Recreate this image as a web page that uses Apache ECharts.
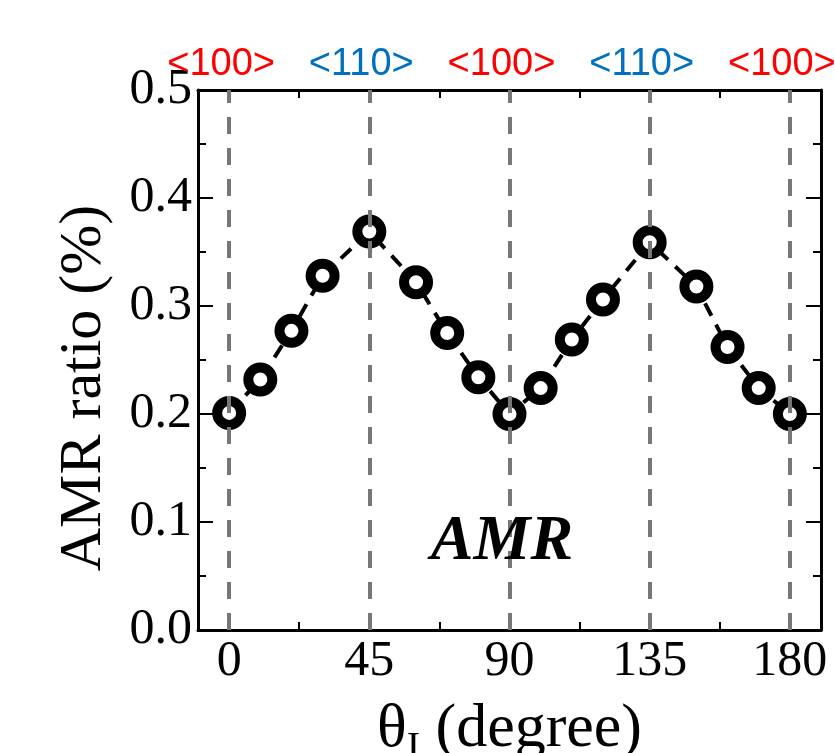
<!DOCTYPE html>
<html>
<head>
<meta charset="utf-8">
<script src="https://cdn.jsdelivr.net/npm/echarts@6/dist/echarts.min.js"></script>
<style>
html,body{margin:0;padding:0;background:#fff;}
#chart{width:835px;height:753px;}
</style>
</head>
<body>
<div id="chart"></div>
<script>
// ---- data ----
var angles = [0, 10, 20, 30, 45, 60, 70, 80, 90, 100, 110, 120, 135, 150, 160, 170, 180];
var amrRatio = [0.201, 0.232, 0.277, 0.328, 0.369, 0.322, 0.275, 0.234, 0.200, 0.224, 0.269, 0.306, 0.359, 0.318, 0.262, 0.224, 0.200];
var xTickLabels = [0, 45, 90, 135, 180];
var xMinorTicks = [0, 22.5, 45, 67.5, 90, 112.5, 135, 157.5, 180];
var refAngles = [0, 45, 90, 135, 180];
var planeLabels = ['<100>', '<110>', '<100>', '<110>', '<100>'];
var planeKinds = ['r', 'b', 'r', 'b', 'r'];

var serif = "'Liberation Serif', 'Times New Roman', serif";
var chart = echarts.init(document.getElementById('chart'));

var frameLine = {show: true, onZero: false, lineStyle: {color: '#000', width: 3}};

var option = {
  backgroundColor: '#fff',
  animation: false,
  grid: {left: 198, right: 14, top: 90, bottom: 123, containLabel: false, outerBoundsMode: 'none'},
  xAxis: [
    {
      type: 'value', position: 'bottom', min: -10, max: 190,
      axisLine: frameLine,
      axisTick: {show: true, inside: true, length: 8, lineStyle: {color: '#000', width: 2}, customValues: xMinorTicks},
      axisLabel: {show: true, customValues: xTickLabels, margin: 7, fontFamily: serif, fontSize: 50, color: '#000'},
      splitLine: {show: false},
      name: '{t|θ}{s|I}{t| (degree)}',
      nameLocation: 'middle', nameGap: 62,
      nameTextStyle: {
        rich: {
          t: {fontFamily: serif, fontSize: 62, color: '#000'},
          s: {fontFamily: serif, fontSize: 40, color: '#000', verticalAlign: 'bottom', padding: [36, 0, 0, 0]}
        }
      }
    },
    {
      type: 'value', position: 'top', min: -10, max: 190,
      axisLine: frameLine,
      axisTick: {show: true, inside: true, length: 8, lineStyle: {color: '#000', width: 2}, customValues: xMinorTicks},
      axisLabel: {
        show: true, customValues: refAngles, margin: 6,
        formatter: function (v) {
          var i = refAngles.indexOf(v);
          if (i < 0) return '';
          return '{' + planeKinds[i] + '|' + planeLabels[i] + '}';
        },
        rich: {
          r: {fontFamily: "'Liberation Sans', Arial, sans-serif", fontSize: 38, color: '#ff0000', padding: [0, 16, 0, 0]},
          b: {fontFamily: "'Liberation Sans', Arial, sans-serif", fontSize: 38, color: '#0070c0', padding: [0, 16, 0, 0]}
        }
      },
      splitLine: {show: false}
    }
  ],
  yAxis: [
    {
      type: 'value', position: 'left', min: 0, max: 0.5, interval: 0.1,
      axisLine: frameLine,
      axisTick: {show: true, inside: true, length: 15, lineStyle: {color: '#000', width: 2}},
      minorTick: {show: true, splitNumber: 2, length: 8, lineStyle: {color: '#000', width: 2}},
      axisLabel: {show: true, margin: 6, fontFamily: serif, fontSize: 50, color: '#000',
        formatter: function (v) { return v.toFixed(1); }},
      splitLine: {show: false},
      name: 'AMR ratio (%)', nameLocation: 'middle', nameRotate: 90, nameGap: 84,
      nameTextStyle: {fontFamily: serif, fontSize: 60, color: '#000', padding: [0, 56, 0, 0]}
    },
    {
      type: 'value', position: 'right', min: 0, max: 0.5, interval: 0.1,
      axisLine: frameLine,
      axisTick: {show: true, inside: true, length: 15, lineStyle: {color: '#000', width: 2}},
      minorTick: {show: true, splitNumber: 2, length: 8, lineStyle: {color: '#000', width: 2}},
      axisLabel: {show: false},
      splitLine: {show: false}
    }
  ],
  graphic: [
    {type: 'text', x: 502, y: 542, z: 50,
      style: {text: 'AMR', fontFamily: serif, fontSize: 64, fontWeight: 'bold', fontStyle: 'italic',
        fill: '#000', textAlign: 'center', textVerticalAlign: 'middle'}}
  ],
  series: [
    {
      type: 'line', xAxisIndex: 0, yAxisIndex: 0, data: [], z: 1,
      markLine: {
        silent: true, symbol: ['none', 'none'], label: {show: false},
        lineStyle: {color: '#777777', width: 4, type: [17, 14]},
        data: refAngles.map(function (a) { return {xAxis: a}; })
      }
    },
    {
      type: 'line', xAxisIndex: 0, yAxisIndex: 0, z: 3,
      data: angles.map(function (a, i) { return [a, amrRatio[i]]; }),
      symbol: 'circle', symbolSize: 24,
      itemStyle: {color: '#fff', borderColor: '#000', borderWidth: 10},
      lineStyle: {color: '#000', width: 4, type: [14, 10]}
    }
  ]
};
chart.setOption(option);
</script>
</body>
</html>
